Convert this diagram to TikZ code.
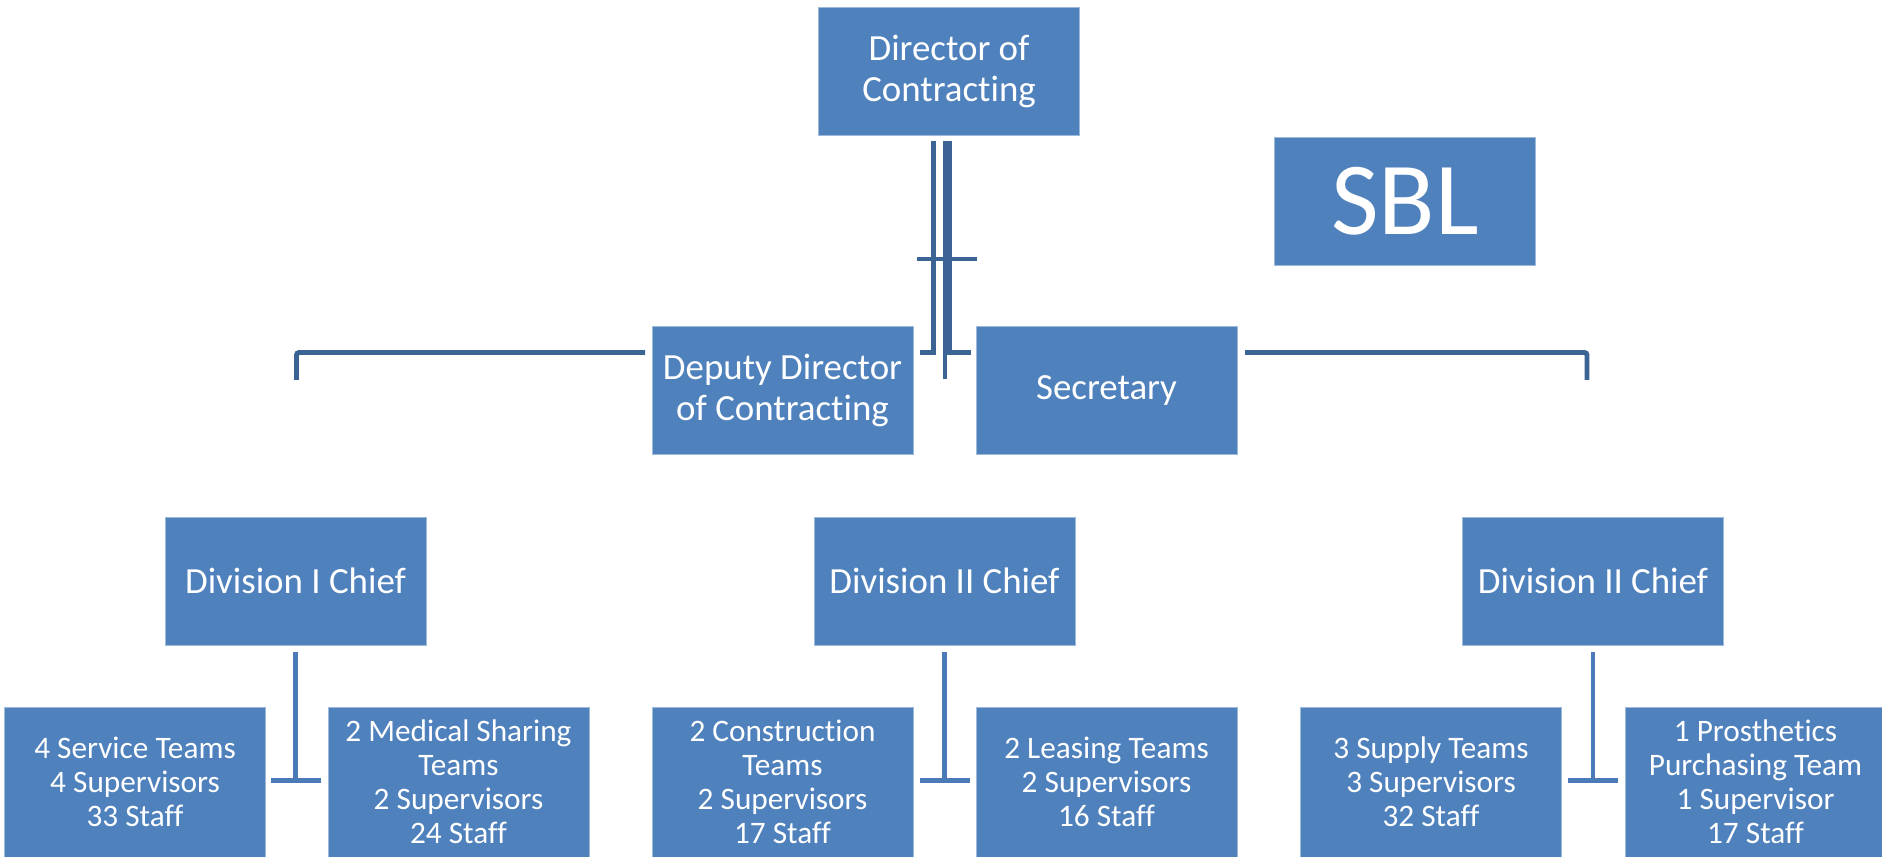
\documentclass[tikz,border=0pt]{standalone}
\usepackage{fontspec}
\setmainfont{Carlito}[Ligatures=NoCommon]
\definecolor{boxblue}{HTML}{4F81BD}
\definecolor{darkline}{HTML}{3B6394}
\definecolor{lightline}{HTML}{4A7AB8}
\tikzset{
	unit/.style={fill=boxblue, draw=boxblue!55!white, line width=0.4pt, text=white, inner sep=0pt, align=center,
		minimum width=5.22cm, minimum height=2.56cm, font=\fontsize{21}{22.8}\selectfont},
	team/.style={unit, minimum height=3cm, font=\fontsize{17.8}{19.3}\selectfont},
	uplink/.style={darkline, line width=2.8pt},
	lowlink/.style={lightline, line width=2.8pt}
}

\begin{document}
\begin{tikzpicture}[x=0.02cm, y=-0.02cm]
	\useasboundingbox (0,0) rectangle (1882,857);
	\clip (0,0) rectangle (1882,857);

	% Top of the chart
	\node[unit] (dir) at (949,71.5) {Director of\\Contracting};
	\node[unit, minimum height=2.56cm, font=\fontsize{59}{64}\selectfont] (sbl) at (1405,201) {SBL};
	\node[unit] (dep) at (782.5,390.5) {Deputy Director\\of Contracting};
	\node[unit] (sec) at (1106.5,390.5) {Secretary};

	% Division chiefs
	\node[unit] (div1) at (295.5,581) {Division I Chief};
	\node[unit] (div2) at (944.5,581) {Division II Chief};
	\node[unit] (div3) at (1593,581) {Division II Chief};

	% Teams under each chief
	\node[team] (serv) at (135,782) {4 Service Teams\\4 Supervisors\\33 Staff};
	\node[team] (med) at (458.5,782) {2 Medical Sharing\\Teams\\2 Supervisors\\24 Staff};
	\node[team] (cons) at (782.5,782) {2 Construction\\Teams\\2 Supervisors\\17 Staff};
	\node[team] (leas) at (1106.5,782) {2 Leasing Teams\\2 Supervisors\\16 Staff};
	\node[team] (supp) at (1431,782) {3 Supply Teams\\3 Supervisors\\32 Staff};
	\node[team] (pros) at (1755.5,782) {1 Prosthetics\\Purchasing Team\\1 Supervisor\\17 Staff};

	% Ends of the connectors below the director
	\coordinate (toDep) at (933.5,141);
	\coordinate (toDepEnd) at (920,352.5);
	\coordinate (toSec) at (949.5,141);
	\coordinate (toSecEnd) at (970.5,352.5);
	\coordinate (drop) at (945,141);
	\coordinate (dropEnd) at (945,379.5);
	\coordinate (barL) at (917,259);
	\coordinate (barR) at (977,259);
	\coordinate (armL) at (645,352.5);
	\coordinate (armLEnd) at (296.5,380);
	\coordinate (armR) at (1245,352.5);
	\coordinate (armREnd) at (1587,380);

	\draw[uplink] (toDep) |- (toDepEnd);
	\draw[uplink] (toSec) |- (toSecEnd);
	\draw[uplink] (drop) -- (dropEnd);
	\draw[uplink] (barL) -- (barR);
	\draw[uplink, rounded corners=1.5pt] (armL) -| (armLEnd);
	\draw[uplink, rounded corners=1.5pt] (armR) -| (armREnd);

	% T-shaped links from chiefs down between their teams
	\foreach \n in {div1, div2, div3} {
		\draw[lowlink] (\n.south) ++(0,7) -- ++(0,128.5) ++(-25,0) -- ++(50,0);
	}
\end{tikzpicture}
\end{document}
